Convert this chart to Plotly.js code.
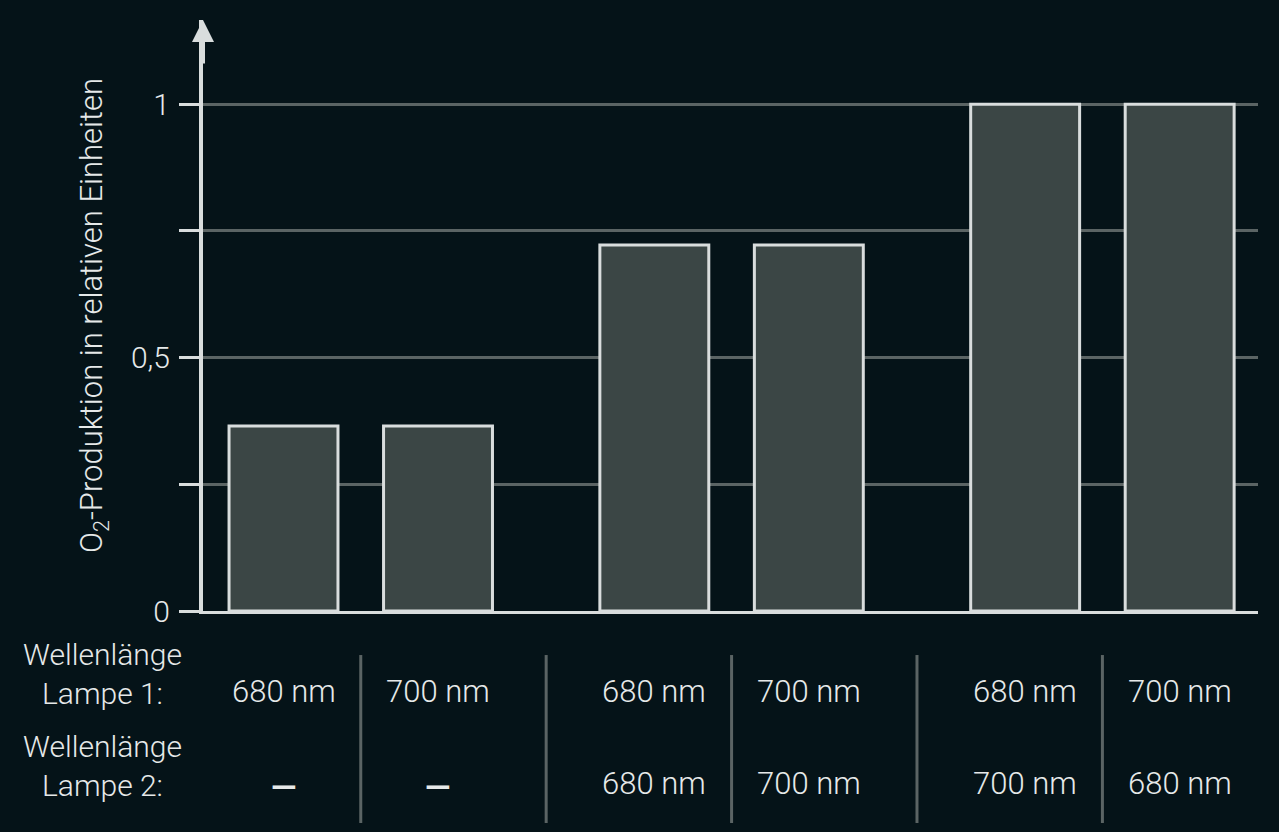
<!DOCTYPE html>
<html>
<head>
<meta charset="utf-8">
<script src="https://cdn.plot.ly/plotly-3.0.1.min.js"></script>
<style>
  html, body { margin: 0; padding: 0; background: #051318; }
  #chart { width: 1279px; height: 832px; }
</style>
</head>
<body>
<div id="chart"></div>
<script>
// bar positions (grouped in pairs) and O2 production values
const barPos = [0, 1, 2.4, 3.4, 4.8, 5.8];
const o2Values = [0.365, 0.365, 0.722, 0.722, 1, 1];
const lampe1 = ['680 nm', '700 nm', '680 nm', '700 nm', '680 nm', '700 nm'];
const lampe2 = ['–', '–', '680 nm', '700 nm', '700 nm', '680 nm'];
const rowLabels = ['Wellenlänge<br>Lampe 1:', 'Wellenlänge<br>Lampe 2:'];
const yTickVals = [0, 0.25, 0.5, 0.75, 1];
const yTickText = ['0', '', '0,5', '', '1'];

const light = '#d9dddd';
const textColor = '#e6e9e9';
const gridColor = '#5b6464';
const fontFam = 'Roboto, sans-serif';

const data = [{
    type: 'bar',
    x: barPos,
    y: o2Values,
    width: 0.705,
    marker: { color: '#3b4645', line: { color: light, width: 3 } },
    hoverinfo: 'skip'
}];

const annotations = [];
const shapes = [];

// table rows below the plot
const rowY = [-0.1354, -0.2927];
const labelY = [-0.1074, -0.2623];
[lampe1, lampe2].forEach((row, r) => {
    row.forEach((txt, i) => {
        const isDash = txt === '–';
        annotations.push({
            xref: 'x', yref: 'paper', x: barPos[i], y: isDash ? rowY[r] - 0.006 : rowY[r],
            text: txt, showarrow: false, xanchor: 'center', yanchor: 'middle',
            font: { size: isDash ? 46 : 31, color: textColor, family: fontFam, weight: isDash ? 400 : 300 }
        });
    });
    annotations.push({
        xref: 'paper', yref: 'paper', x: -0.0948, y: labelY[r],
        text: rowLabels[r], showarrow: false, xanchor: 'center', yanchor: 'middle',
        font: { size: 30, color: textColor, family: fontFam, weight: 300 }
    });
});

// separators between the table columns
for (let i = 0; i < barPos.length - 1; i++) {
    const mid = (barPos[i] + barPos[i + 1]) / 2;
    shapes.push({
        type: 'line', xref: 'x', yref: 'paper',
        x0: mid, x1: mid, y0: -0.0745, y1: -0.3587,
        line: { color: gridColor, width: 3 }
    });
}

// arrow head on the y axis
annotations.push({
    xref: 'paper', yref: 'paper', x: 0, y: 1,
    ax: 0, ay: 45, showarrow: true,
    arrowhead: 2, arrowsize: 1.1, arrowwidth: 4, arrowcolor: light,
    text: ''
});

const layout = {
    width: 1279,
    height: 832,
    margin: { l: 203, r: 21, t: 20, b: 221 },
    paper_bgcolor: '#051318',
    plot_bgcolor: '#051318',
    font: { family: fontFam, color: textColor, size: 30, weight: 300 },
    showlegend: false,
    xaxis: {
        range: [-0.521, 6.307],
        showgrid: false,
        zeroline: false,
        showticklabels: false,
        ticks: '',
        showline: true,
        linecolor: light,
        linewidth: 3,
        fixedrange: true
    },
    yaxis: {
        range: [0, 1.166],
        tickvals: yTickVals,
        ticktext: yTickText,
        ticks: 'outside',
        ticklen: 20,
        tickwidth: 3,
        tickcolor: light,
        ticklabelstandoff: 3,
        tickfont: { size: 30, color: textColor, weight: 300 },
        showgrid: true,
        gridcolor: gridColor,
        gridwidth: 3,
        zeroline: false,
        showline: true,
        linecolor: light,
        linewidth: 4,
        title: {
            text: 'O<sub>2</sub>-Produktion in relativen Einheiten',
            font: { size: 31, color: textColor, weight: 300 },
            standoff: 20
        },
        fixedrange: true
    },
    annotations: annotations,
    shapes: shapes
};

Plotly.newPlot('chart', data, layout, { displayModeBar: false, staticPlot: true });
</script>
</body>
</html>
